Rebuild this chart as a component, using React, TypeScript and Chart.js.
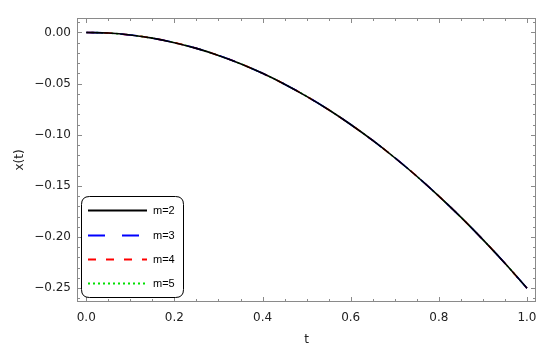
import React, { useEffect, useRef } from "react";
import { Chart, registerables } from "chart.js";

Chart.register(...registerables);

// ---- data ----
const tValues = [0, 0.05, 0.1, 0.15, 0.2, 0.25, 0.3, 0.35, 0.4, 0.45, 0.5, 0.55, 0.6, 0.65, 0.7, 0.75, 0.8, 0.85, 0.9, 0.95, 1.0];
const m2Values = [0, -0.0006, -0.0025, -0.0056, -0.01, -0.0156, -0.0225, -0.0306, -0.04, -0.0506, -0.0625, -0.0756, -0.09, -0.1056, -0.1225, -0.1406, -0.16, -0.1806, -0.2025, -0.2256, -0.25];
const m3Values = [0, -0.0006, -0.0025, -0.0056, -0.01, -0.0156, -0.0225, -0.0306, -0.04, -0.0506, -0.0625, -0.0756, -0.09, -0.1056, -0.1225, -0.1406, -0.16, -0.1806, -0.2025, -0.2256, -0.25];
const m4Values = [0, -0.0006, -0.0025, -0.0056, -0.01, -0.0156, -0.0225, -0.0306, -0.04, -0.0506, -0.0625, -0.0756, -0.09, -0.1056, -0.1225, -0.1406, -0.16, -0.1806, -0.2025, -0.2256, -0.25];
const m5Values = [0, -0.0006, -0.0025, -0.0056, -0.01, -0.0156, -0.0225, -0.0306, -0.04, -0.0506, -0.0625, -0.0756, -0.09, -0.1056, -0.1225, -0.1406, -0.16, -0.1806, -0.2025, -0.2256, -0.25];
const seriesLabels = ["m=2", "m=3", "m=4", "m=5"];
const xTickValues = [0, 0.2, 0.4, 0.6, 0.8, 1.0];
const yTickValues = [0, -0.05, -0.1, -0.15, -0.2, -0.25];
const xAxisTitle = "t";
const yAxisTitle = "x(t)";

// ---- styles ----
const seriesColors = ["#000000", "#0000ff", "#ff0000", "#00e000"];
const seriesDashes: number[][] = [[], [17, 17], [8, 10], [2, 3]];
const FONT = "'Liberation Sans', Arial, sans-serif";
const TICK_FONT = "'DejaVu Sans', sans-serif";
const FRAME_COLOR = "#8a8a8a";

const fmtMinus = (s: string) => s.replace("-", "\u2212");

const framePlugin = {
  id: "frameTicks",
  beforeDatasetsDraw(chart: any) {
    const { ctx, chartArea: a, scales } = chart;
    const xs = scales.x;
    const ys = scales.y;
    ctx.save();
    ctx.strokeStyle = FRAME_COLOR;
    ctx.lineWidth = 1;
    ctx.strokeRect(Math.round(a.left) + 0.5, Math.round(a.top) + 0.5, Math.round(a.right - a.left) - 1, Math.round(a.bottom - a.top) - 1);
    ctx.beginPath();
    // x ticks (minor every 0.05, major every 0.2)
    for (let i = 0; i <= 20; i++) {
      const v = i * 0.05;
      const px = Math.round(xs.getPixelForValue(v)) + 0.5;
      const len = i % 4 === 0 ? 5 : 3;
      ctx.moveTo(px, a.bottom);
      ctx.lineTo(px, a.bottom - len);
      ctx.moveTo(px, a.top);
      ctx.lineTo(px, a.top + len);
    }
    // y ticks (minor every 0.01, major every 0.05)
    for (let i = -1; i <= 26; i++) {
      const v = -i * 0.01;
      const py = Math.round(ys.getPixelForValue(v)) + 0.5;
      if (py < a.top || py > a.bottom) continue;
      const len = i % 5 === 0 ? 5 : 3;
      ctx.moveTo(a.left, py);
      ctx.lineTo(a.left + len, py);
      ctx.moveTo(a.right, py);
      ctx.lineTo(a.right - len, py);
    }
    ctx.stroke();
    ctx.restore();
  },
};

const legendPlugin = {
  id: "boxLegend",
  afterDraw(chart: any) {
    const { ctx } = chart;
    const x = 81.5, y = 196.5, w = 102, h = 101, r = 8;
    ctx.save();
    ctx.beginPath();
    ctx.moveTo(x + r, y);
    ctx.lineTo(x + w - r, y);
    ctx.quadraticCurveTo(x + w, y, x + w, y + r);
    ctx.lineTo(x + w, y + h - r);
    ctx.quadraticCurveTo(x + w, y + h, x + w - r, y + h);
    ctx.lineTo(x + r, y + h);
    ctx.quadraticCurveTo(x, y + h, x, y + h - r);
    ctx.lineTo(x, y + r);
    ctx.quadraticCurveTo(x, y, x + r, y);
    ctx.closePath();
    ctx.fillStyle = "#ffffff";
    ctx.fill();
    ctx.strokeStyle = "#000000";
    ctx.lineWidth = 1;
    ctx.stroke();
    const rows = [210, 235, 259, 283];
    chart.data.datasets.forEach((ds: any, i: number) => {
      const ry = rows[i] + 0.5;
      ctx.beginPath();
      ctx.setLineDash(ds.borderDash || []);
      ctx.strokeStyle = ds.borderColor;
      ctx.lineWidth = 2;
      ctx.moveTo(88, ry);
      ctx.lineTo(147, ry);
      ctx.stroke();
      ctx.setLineDash([]);
      ctx.fillStyle = "#000000";
      ctx.font = `11px ${FONT}`;
      ctx.textBaseline = "middle";
      ctx.textAlign = "left";
      ctx.fillText(ds.label, 153, ry);
    });
    ctx.restore();
  },
};

export default function App() {
  const canvasRef = useRef<HTMLCanvasElement | null>(null);

  useEffect(() => {
    document.body.style.margin = "0";
    const canvas = canvasRef.current;
    if (!canvas) return;
    const valueSets = [m2Values, m3Values, m4Values, m5Values];
    const datasets = seriesLabels.map((label, i) => ({
      label,
      data: tValues.map((t, j) => ({ x: t, y: valueSets[i][j] })),
      borderColor: seriesColors[i],
      backgroundColor: seriesColors[i],
      borderWidth: 1.6,
      borderDash: seriesDashes[i],
      pointRadius: 0,
      cubicInterpolationMode: "monotone" as const,
      fill: false,
    }));

    const chart = new Chart(canvas, {
      type: "line",
      data: { datasets },
      plugins: [framePlugin, legendPlugin],
      options: {
        animation: false,
        responsive: false,
        maintainAspectRatio: false,
        layout: { padding: { left: 0, top: 18, right: 22, bottom: 0 } },
        plugins: {
          legend: { display: false },
          tooltip: { enabled: false },
        },
        scales: {
          x: {
            type: "linear",
            min: -0.021,
            max: 1.0205,
            grid: { display: false, drawTicks: false },
            border: { display: false },
            afterBuildTicks: (scale: any) => {
              scale.ticks = xTickValues.map((v) => ({ value: v }));
            },
            afterFit: (scale: any) => {
              scale.height = 48;
            },
            ticks: {
              padding: 9,
              maxRotation: 0,
              autoSkip: false,
              color: "#222222",
              font: { family: TICK_FONT, size: 12 },
              callback: (v: any) => fmtMinus(Number(v).toFixed(1)),
            },
            title: {
              display: true,
              text: xAxisTitle,
              color: "#222222",
              font: { family: TICK_FONT, size: 12 },
              padding: { top: 0, bottom: 3 },
            },
          },
          y: {
            type: "linear",
            min: -0.2635,
            max: 0.0141,
            grid: { display: false, drawTicks: false },
            border: { display: false },
            afterBuildTicks: (scale: any) => {
              scale.ticks = yTickValues.map((v) => ({ value: v }));
            },
            afterFit: (scale: any) => {
              scale.width = 77;
            },
            ticks: {
              padding: 6,
              autoSkip: false,
              color: "#222222",
              font: { family: TICK_FONT, size: 12 },
              callback: (v: any) => fmtMinus(Number(v).toFixed(2)),
            },
            title: {
              display: true,
              text: yAxisTitle,
              color: "#222222",
              font: { family: TICK_FONT, size: 12 },
              padding: { top: 13, bottom: 0 },
            },
          },
        },
      },
    });
    return () => chart.destroy();
  }, []);

  return (
    <div style={{ width: 558, height: 350, background: "#fff" }}>
      <canvas ref={canvasRef} width={558} height={350} style={{ display: "block" }} />
    </div>
  );
}
